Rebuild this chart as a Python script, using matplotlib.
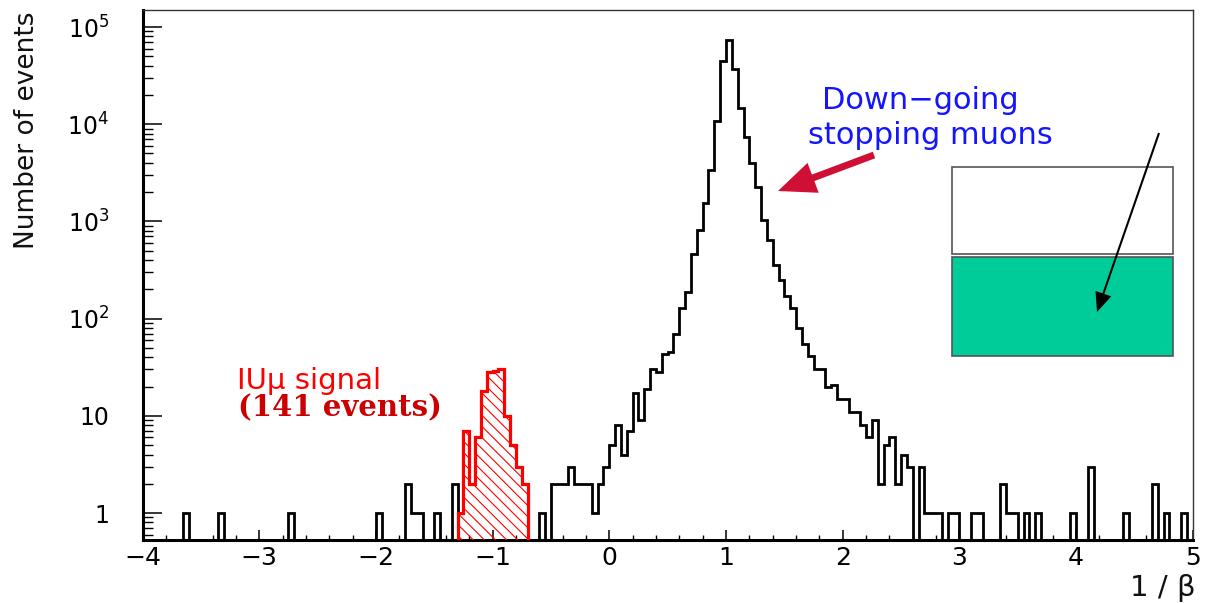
import numpy as np
import matplotlib
matplotlib.use("Agg")
import matplotlib.pyplot as plt
from matplotlib import font_manager
from matplotlib.patches import Rectangle, FancyArrowPatch
from matplotlib.ticker import FixedLocator, LogLocator, MultipleLocator, NullFormatter

# ---- histogram contents (bin width 0.05 on 1/beta, range -4..5) ----
# left edges of the populated bins of the full sample and their counts
all_lo = [-3.65, -3.35, -2.75, -2.00, -1.75, -1.70, -1.65, -1.50, -1.35,
          -0.60, -0.50, -0.45, -0.40, -0.35, -0.30, -0.25, -0.20, -0.15, -0.10, -0.05,
          0.00, 0.05, 0.10, 0.15, 0.20, 0.25, 0.30, 0.35, 0.40, 0.45,
          0.50, 0.55, 0.60, 0.65, 0.70, 0.75, 0.80, 0.85, 0.90, 0.95,
          1.00, 1.05, 1.10, 1.15, 1.20, 1.25, 1.30, 1.35, 1.40, 1.45,
          1.50, 1.55, 1.60, 1.65, 1.70, 1.75, 1.80, 1.85, 1.90, 1.95,
          2.00, 2.05, 2.10, 2.15, 2.20, 2.25, 2.30, 2.35, 2.40, 2.45,
          2.50, 2.55, 2.65, 2.70, 2.75, 2.80, 2.90, 2.95, 3.10, 3.15,
          3.35, 3.40, 3.45, 3.55, 3.65, 3.95, 4.10, 4.40, 4.65, 4.75, 4.90]
all_n = [1, 1, 1, 1, 2, 1, 1, 1, 2,
         1, 2, 2, 2, 3, 2, 2, 2, 1, 2, 3,
         5, 8, 4, 7, 17, 9, 19, 30, 28, 43,
         45, 70, 130, 188, 466, 810, 1550, 3420, 10900, 45000,
         73000, 36800, 14800, 7300, 4000, 2270, 1030, 640, 360, 252,
         172, 129, 80, 55, 41, 30, 30, 20, 21, 15,
         15, 11, 11, 8, 6, 9, 2, 5, 6, 2,
         4, 3, 3, 1, 1, 1, 1, 1, 1, 1,
         2, 1, 1, 1, 1, 1, 3, 1, 2, 1, 1]

# upward-going muon candidates (141 events)
sig_lo = [-1.30, -1.25, -1.20, -1.15, -1.10, -1.05, -1.00, -0.95, -0.90, -0.85, -0.80, -0.75]
sig_n = [1, 7, 2, 6, 18, 28, 29, 30, 10, 5, 3, 2]

x_ticks = [-4, -3, -2, -1, 0, 1, 2, 3, 4, 5]
y_ticks = [1, 10, 100, 1000, 10000, 100000]
y_tick_labels = ["1", "10", r"$\mathregular{10^{2}}$", r"$\mathregular{10^{3}}$",
                 r"$\mathregular{10^{4}}$", r"$\mathregular{10^{5}}$"]

BIN = 0.05
X_MIN, X_MAX = -4.0, 5.0
edges = np.round(np.linspace(X_MIN, X_MAX, int(round((X_MAX - X_MIN) / BIN)) + 1), 3)


def binned(lo, n):
    vals = np.zeros(len(edges) - 1)
    idx = np.rint((np.asarray(lo) - X_MIN) / BIN).astype(int)
    vals[idx] = n
    return vals


all_vals = binned(all_lo, all_n)
sig_vals = np.asarray(sig_n, dtype=float)
sig_edges = np.round(np.append(sig_lo, sig_lo[-1] + BIN), 3)

# ---- figure ----
W, H = 1206, 603
fig = plt.figure(figsize=(W / 100, H / 100), dpi=100)
fig.patch.set_facecolor("white")


def fx(px):
    return px / W


def fy(py):
    return 1 - py / H


ax = fig.add_axes([fx(142.5), 63 / H, 1050.3 / W, 530 / H])
ax.set_yscale("log", nonpositive="clip")

ax.stairs(all_vals, edges, baseline=0, color="black", lw=2.0, zorder=2)

plt.rcParams["hatch.linewidth"] = 0.8
ax.stairs(sig_vals, sig_edges, baseline=0, fill=True, facecolor="none",
          edgecolor="#ff0000", hatch="\\\\\\", lw=2.3, zorder=3)

ax.set_xlim(X_MIN, X_MAX)
ax.set_ylim(10 ** -0.2775, 10 ** 5.175)

ax.xaxis.set_major_locator(FixedLocator(x_ticks))
ax.set_xticklabels(["\u2212" + str(-t) if t < 0 else str(t) for t in x_ticks])
ax.xaxis.set_minor_locator(MultipleLocator(0.2))
ax.yaxis.set_major_locator(FixedLocator(y_ticks))
ax.set_yticklabels(y_tick_labels)
ax.yaxis.set_minor_locator(LogLocator(base=10, subs=np.arange(2, 10), numticks=20))
ax.yaxis.set_minor_formatter(NullFormatter())

ax.tick_params(axis="x", which="major", direction="in", length=7.5, width=1.1,
               labelsize=18, pad=4)
ax.tick_params(axis="x", which="minor", direction="in", length=3.5, width=1.0)
ax.tick_params(axis="y", which="major", direction="in", length=14, width=1.1,
               labelsize=17, pad=24)
ax.tick_params(axis="y", which="minor", direction="in", length=7, width=1.0)

for side in ("left", "bottom"):
    ax.spines[side].set_linewidth(2.2)
for side in ("top", "right"):
    ax.spines[side].set_linewidth(1.0)
    ax.spines[side].set_color("#333333")

# ---- axis titles ----
names = {f.name for f in font_manager.fontManager.ttflist}
if "Liberation Sans Narrow" in names:
    ylab_family, ylab_size = "Liberation Sans Narrow", 25
else:
    ylab_family, ylab_size = "DejaVu Sans", 19
fig.text(fx(27), fy(130), "Number of events", rotation=90, ha="center", va="center",
         fontsize=ylab_size, family=ylab_family, color="#111111")
fig.text(fx(1196), fy(588), "1 / \u03b2", ha="right", va="center", fontsize=21,
         color="#111111")

# ---- annotations ----
fig.text(fx(822), fy(109), "Down\u2212going", ha="left", va="baseline",
         fontsize=22, color="#1414ff")
fig.text(fx(808), fy(144), "stopping muons", ha="left", va="baseline",
         fontsize=22, color="#1414ff")
fig.text(fx(237), fy(389), "IU\u03bc signal", ha="left", va="baseline",
         fontsize=21, color="#ff0000")
fig.text(fx(238), fy(416), "(141 events)", ha="left", va="baseline",
         fontsize=21, color="#cc0000", family="DejaVu Serif", weight="bold")

red_arrow = FancyArrowPatch((fx(874), fy(155)), (fx(778), fy(191)),
                            transform=fig.transFigure,
                            arrowstyle="simple,head_length=27,head_width=23,tail_width=5",
                            mutation_scale=1, shrinkA=0, shrinkB=0,
                            color="#cf1034", lw=0, zorder=5)
fig.add_artist(red_arrow)

fig.add_artist(Rectangle((fx(951.7), fy(254)), 221.6 / W, (254 - 166.7) / H,
                         transform=fig.transFigure, facecolor="white",
                         edgecolor="#555555", lw=1.2, zorder=4))
fig.add_artist(Rectangle((fx(951.7), fy(356)), 221.6 / W, (356 - 257.3) / H,
                         transform=fig.transFigure, facecolor="#00cc99",
                         edgecolor="#555555", lw=1.2, zorder=4))

black_arrow = FancyArrowPatch((fx(1159), fy(133)), (fx(1097), fy(312)),
                              transform=fig.transFigure,
                              arrowstyle="simple,head_length=14,head_width=12,tail_width=1.5",
                              mutation_scale=1, shrinkA=0, shrinkB=0,
                              color="black", lw=0, zorder=6)
fig.add_artist(black_arrow)

fig.savefig("out.png", dpi=100)
